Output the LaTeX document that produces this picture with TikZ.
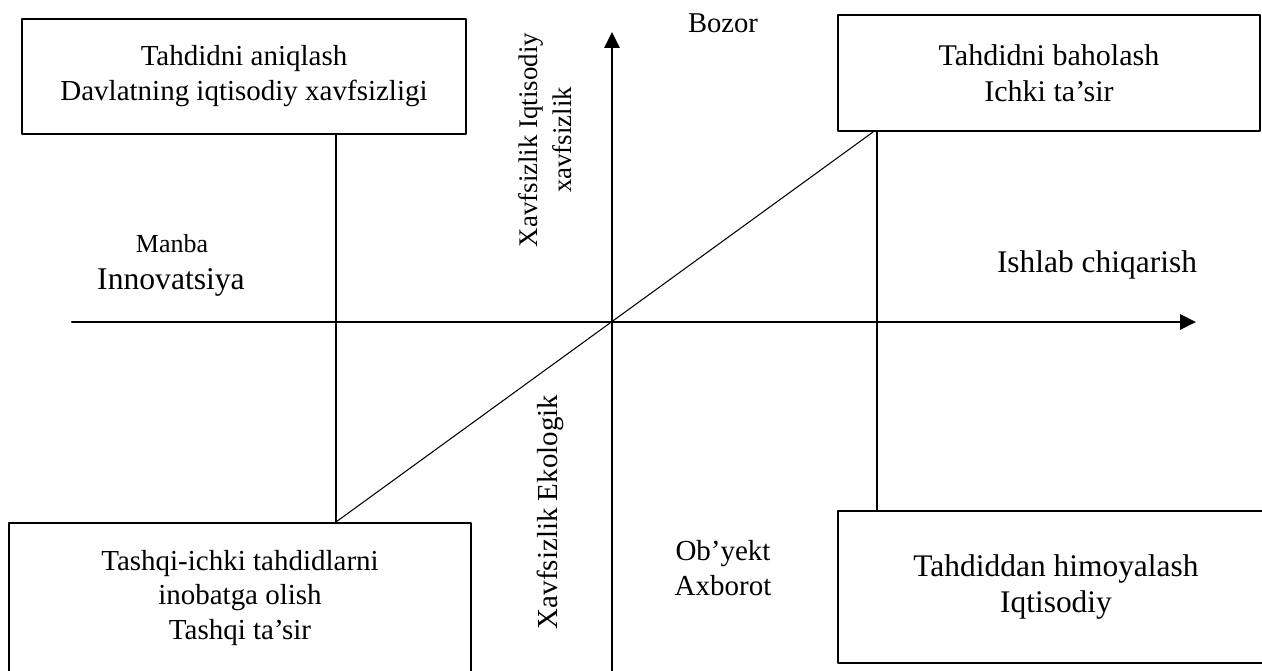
\documentclass[tikz,border=0pt]{standalone}
\usepackage{fontspec}
\setmainfont{Liberation Serif}
\usetikzlibrary{arrows.meta}
\tikzset{
  blok/.style={draw,line width=1.2pt,align=center,inner sep=0pt},
  yozuv/.style={align=center,inner sep=0pt},
  oq/.style={line width=1.3pt},
  ingichka/.style={line width=0.6pt}
}
\begin{document}
\begin{tikzpicture}[line cap=round,line join=round,>={Triangle[length=9pt,width=8.5pt]},x=0.02cm,y=0.02cm]
\useasboundingbox (0,0) rectangle (1262,670);
\clip (0,0) rectangle (1262,670);
\node[blok,minimum width=8.88cm,minimum height=2.3cm,font=\fontsize{16.5}{19.9}\selectfont] (aniq) at (244,593.5) {Tahdidni aniqlash\\Davlatning iqtisodiy xavfsizligi};
\node[blok,minimum width=8.44cm,minimum height=2.32cm,font=\fontsize{17.1}{20.4}\selectfont] (baho) at (1049,597) {Tahdidni baholash\\Ichki ta’sir};
\node[blok,minimum width=9.24cm,minimum height=3.0cm,font=\fontsize{16.5}{19.5}\selectfont] (tashqi) at (240,72) {Tashqi-ichki tahdidlarni\\inobatga olish\\Tashqi ta’sir};
\node[blok,minimum width=8.72cm,minimum height=3.04cm,font=\fontsize{17.9}{21}\selectfont] (himoya) at (1056,83) {Tahdiddan himoyalash\\Iqtisodiy};
\coordinate (o) at (612,348);
\coordinate (xchap) at (72,348);
\coordinate (xuch) at (1196,348);
\coordinate (ypast) at (612,-5);
\coordinate (yuch) at (612,638);
\draw[oq,->] (xchap) -- (xuch);
\draw[oq,->] (ypast) -- (yuch);
\coordinate (chapk) at (336,0);
\coordinate (ongk) at (877,0);
\coordinate (diag) at (873,0);
\draw[ingichka] (aniq.south -| chapk) -- (tashqi.north -| chapk);
\draw[ingichka] (tashqi.north -| chapk) -- (baho.south -| diag);
\draw[ingichka] (baho.south -| ongk) -- (himoya.north -| ongk);
\node[yozuv,anchor=base,font=\fontsize{16.3}{19.5}\selectfont] (bozor) at (723,637) {Bozor};
\node[yozuv,rotate=90,font=\fontsize{15.3}{19.3}\selectfont] (iqtisodiy) at (545,530) {Xavfsizlik Iqtisodiy\\xavfsizlik};
\node[yozuv,rotate=90,font=\fontsize{16.5}{19.5}\selectfont] (ekologik) at (550,158) {Xavfsizlik Ekologik};
\node[yozuv,font=\fontsize{16.5}{19.9}\selectfont] (obyekt) at (723,102) {Ob’yekt\\Axborot};
\node[yozuv,anchor=base,font=\fontsize{14.8}{17}\selectfont] (manba) at (172,417) {Manba};
\node[yozuv,anchor=base,font=\fontsize{18}{21}\selectfont] (innov) at (171,380) {Innovatsiya};
\node[yozuv,anchor=base,font=\fontsize{17.9}{21}\selectfont] (ishlab) at (1097,397) {Ishlab chiqarish};
\end{tikzpicture}
\end{document}
